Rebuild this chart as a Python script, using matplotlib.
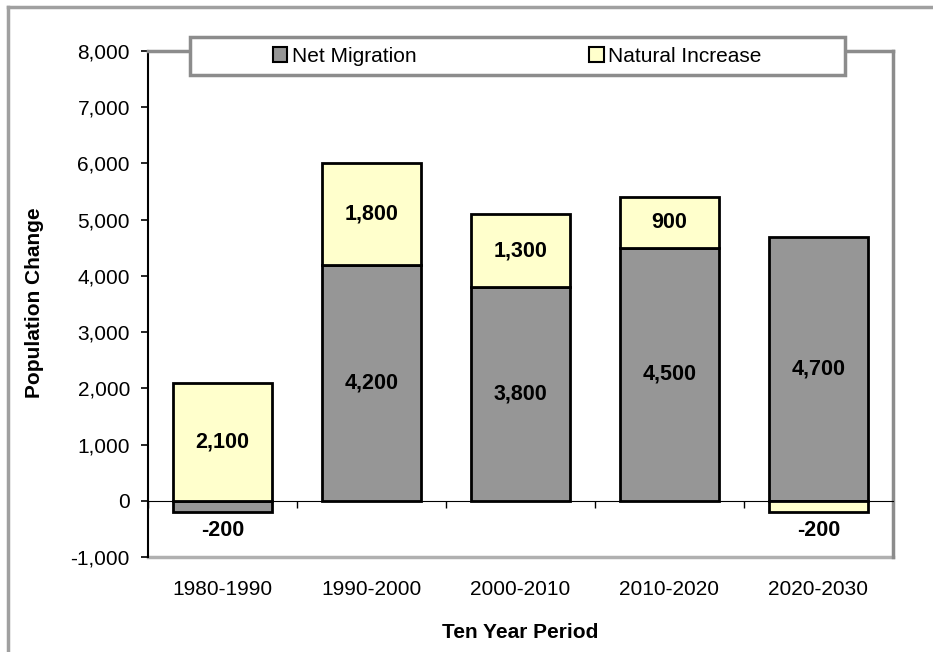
import matplotlib.pyplot as plt
import matplotlib.patches as mpatches
from matplotlib.lines import Line2D
from matplotlib.ticker import FuncFormatter
import numpy as np

plt.rcParams['font.family'] = ['Liberation Sans', 'DejaVu Sans']

periods = ['1980-1990', '1990-2000', '2000-2010', '2010-2020', '2020-2030']
net_migration = [-200, 4200, 3800, 4500, 4700]
natural_increase = [2100, 1800, 1300, 900, -200]

gray = '#969696'
yellow = '#FFFFCC'
frame = '#8c8c8c'
fs = 15

fig = plt.figure(figsize=(9.33, 6.52), dpi=100)
ax = fig.add_axes([148 / 933, 1 - 557 / 652, 745 / 933, 506 / 652])

x = np.arange(len(periods))
w = 0.67
nm = np.array(net_migration)
ni = np.array(natural_increase)

# stack positives on positives, negatives below zero
nm_base = np.zeros(len(x))
ni_base = np.where((ni > 0) & (nm > 0), nm, 0)
ni_base = np.where((ni < 0) & (nm < 0), nm, ni_base)

ax.bar(x, nm, w, bottom=nm_base, color=gray, edgecolor='black', linewidth=2, zorder=3)
ax.bar(x, ni, w, bottom=ni_base, color=yellow, edgecolor='black', linewidth=2, zorder=3)

def lab(v, base):
    if v < 0:
        return base + v - 320
    return base + v / 2

for i in range(len(x)):
    for v, b in [(nm[i], nm_base[i]), (ni[i], ni_base[i])]:
        ax.text(x[i], lab(v, b), f'{v:,}', ha='center', va='center',
                fontsize=fs + 0.5, fontweight='bold', zorder=5)

ax.set_xlim(-0.5, len(x) - 0.5)
ax.set_ylim(-1000, 8000)
ax.set_yticks(np.arange(-1000, 8001, 1000))
ax.yaxis.set_major_formatter(FuncFormatter(lambda v, p: f'{int(v):,}'))
ax.tick_params(axis='y', labelsize=fs, length=5, width=1.2, direction='out', pad=8)

# category axis sits on zero
ax.spines['bottom'].set_position(('data', 0))
ax.spines['bottom'].set_linewidth(0.8)
ax.set_xticks(x)
ax.set_xticklabels(periods)
ax.set_xticks(np.arange(-0.5, len(x), 1), minor=True)
ax.tick_params(axis='x', which='major', length=0, labelsize=fs, pad=57)
ax.tick_params(axis='x', which='minor', length=5, width=1, direction='out')

ax.spines['left'].set_linewidth(1.5)
for s in ['top', 'right']:
    ax.spines[s].set_color(frame)
    ax.spines[s].set_linewidth(2.5)
ax.axhline(-1000, color='#b0b0b0', linewidth=2.5, clip_on=False, zorder=1)

fig.text(35 / 933, 1 - 303 / 652, 'Population Change', rotation=90,
         ha='center', va='center', fontsize=fs, fontweight='bold')
fig.text(520 / 933, 1 - 632 / 652, 'Ten Year Period',
         ha='center', va='center', fontsize=fs, fontweight='bold')

# legend box
fig.add_artist(mpatches.Rectangle((190 / 933, 1 - 75 / 652), 655 / 933, 38 / 652,
                                  transform=fig.transFigure, facecolor='white',
                                  edgecolor=frame, linewidth=2.5, zorder=4))
handles = [mpatches.Patch(facecolor=gray, edgecolor='black', linewidth=1.5, label='Net Migration'),
           mpatches.Patch(facecolor=yellow, edgecolor='black', linewidth=1.5, label='Natural Increase')]
leg = fig.legend(handles=handles, loc='center', bbox_to_anchor=(517 / 933, 1 - 56 / 652),
                 ncol=2, frameon=False, fontsize=fs,
                 handlelength=0.7, handleheight=0.7, handletextpad=0.2,
                 columnspacing=8.3, borderpad=0, borderaxespad=0)
leg.set_zorder(5)

# outer chart border
fig.add_artist(Line2D([8 / 933, 8 / 933], [0, 1 - 7 / 652], color='#a0a0a0', linewidth=2.5))
fig.add_artist(Line2D([8 / 933, 1], [1 - 7 / 652, 1 - 7 / 652], color='#a0a0a0', linewidth=2.5))

fig.savefig('out.png', dpi=100)
